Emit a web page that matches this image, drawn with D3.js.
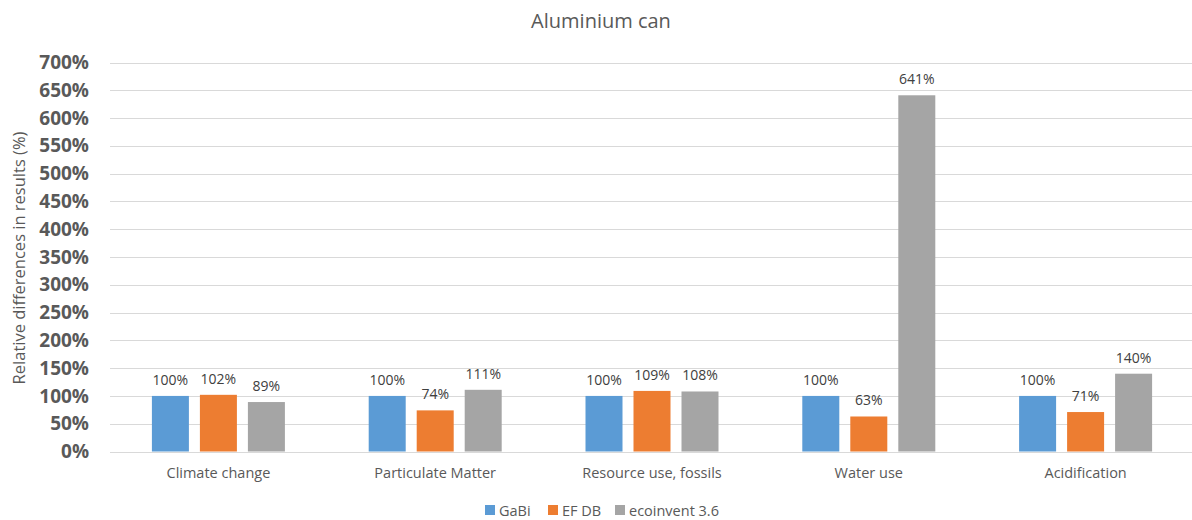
<!DOCTYPE html>
<html>
<head>
<meta charset="utf-8">
<script src="https://cdn.jsdelivr.net/npm/d3@7"></script>
<style>
  html, body { margin: 0; padding: 0; background: #fff; }
  svg { display: block; font-family: "Open Sans", sans-serif; }
</style>
</head>
<body>
<svg id="chart" width="1192" height="520"></svg>
<script>
// Relative LCA results for an aluminium can, by impact category and database
const categories = ["Climate change", "Particulate Matter", "Resource use, fossils", "Water use", "Acidification"];
const seriesNames = ["GaBi", "EF DB", "ecoinvent 3.6"];
const gabi = [100, 100, 100, 100, 100];
const efdb = [102, 74, 109, 63, 71];
const ecoinvent = [89, 111, 108, 641, 140];
const yTicks = [0, 50, 100, 150, 200, 250, 300, 350, 400, 450, 500, 550, 600, 650, 700];
const colors = ["#5B9BD5", "#ED7D31", "#A5A5A5"];

const series = [gabi, efdb, ecoinvent];
const svg = d3.select("#chart");

const plot = { left: 110, right: 1194, top: 62.5, bottom: 451.5 };

const x = d3.scaleBand().domain(categories).range([plot.left, plot.right]).paddingInner(0).paddingOuter(0);
const y = d3.scaleLinear().domain([0, 700]).range([plot.bottom, plot.top]);
const offset = d3.scalePoint().domain(seriesNames).range([-48, 48]);
const barW = 37;

// Title
svg.append("text")
  .attr("x", 601).attr("y", 28)
  .attr("text-anchor", "middle")
  .attr("font-size", 20)
  .attr("fill", "#595959")
  .text("Aluminium can");

// Gridlines
svg.append("g")
  .selectAll("line")
  .data(yTicks)
  .join("line")
  .attr("x1", plot.left).attr("x2", plot.right)
  .attr("y1", d => Math.round(y(d)) + 0.5).attr("y2", d => Math.round(y(d)) + 0.5)
  .attr("stroke", "#D9D9D9").attr("stroke-width", 1);

// Y axis tick labels
const yAxis = d3.axisLeft(y).tickValues(yTicks).tickFormat(d => d + "%").tickSize(0).tickPadding(0);
const yG = svg.append("g").attr("transform", `translate(${plot.left - 21},0)`).call(yAxis);
yG.select(".domain").remove();
yG.selectAll("text")
  .attr("font-family", "Open Sans, sans-serif")
  .attr("font-size", 19)
  .attr("font-weight", "bold")
  .attr("fill", "#595959");

// Y axis title
svg.append("text")
  .attr("transform", `translate(25,258) rotate(-90)`)
  .attr("text-anchor", "middle")
  .attr("font-size", 16.5)
  .attr("fill", "#595959")
  .text("Relative differences in results (%)");

// Bars and data labels
const groups = svg.append("g")
  .selectAll("g")
  .data(seriesNames)
  .join("g");

groups.each(function(name, si) {
  const g = d3.select(this);
  const vals = series[si];
  g.selectAll("rect")
    .data(categories)
    .join("rect")
    .attr("x", (c) => x(c) + x.bandwidth() / 2 + offset(name) - barW / 2)
    .attr("width", barW)
    .attr("y", (c, i) => y(vals[i]))
    .attr("height", (c, i) => y(0) - y(vals[i]))
    .attr("fill", colors[si]);
  g.selectAll("text")
    .data(categories)
    .join("text")
    .attr("x", (c) => x(c) + x.bandwidth() / 2 + offset(name))
    .attr("y", (c, i) => y(vals[i]) - 11)
    .attr("text-anchor", "middle")
    .attr("font-size", 14)
    .attr("fill", "#404040")
    .text((c, i) => vals[i] + "%");
});

// Category labels
const xAxis = d3.axisBottom(x).tickSize(0).tickPadding(0);
const xG = svg.append("g").attr("transform", `translate(0,${plot.bottom + 26})`).call(xAxis);
xG.select(".domain").remove();
xG.selectAll("text")
  .attr("font-family", "Open Sans, sans-serif")
  .attr("font-size", 14.5)
  .attr("fill", "#595959")
  .attr("dy", 0);

// Legend
const legendItems = [
  { name: seriesNames[0], x: 485 },
  { name: seriesNames[1], x: 548 },
  { name: seriesNames[2], x: 615 }
];
const lg = svg.append("g").selectAll("g").data(legendItems).join("g")
  .attr("transform", d => `translate(${d.x},505)`);
lg.append("rect").attr("width", 10).attr("height", 10).attr("y", 0)
  .attr("fill", (d, i) => colors[i]);
lg.append("text").attr("x", 14).attr("y", 10.5)
  .attr("font-size", 14.5).attr("fill", "#595959")
  .text(d => d.name);
</script>
</body>
</html>
